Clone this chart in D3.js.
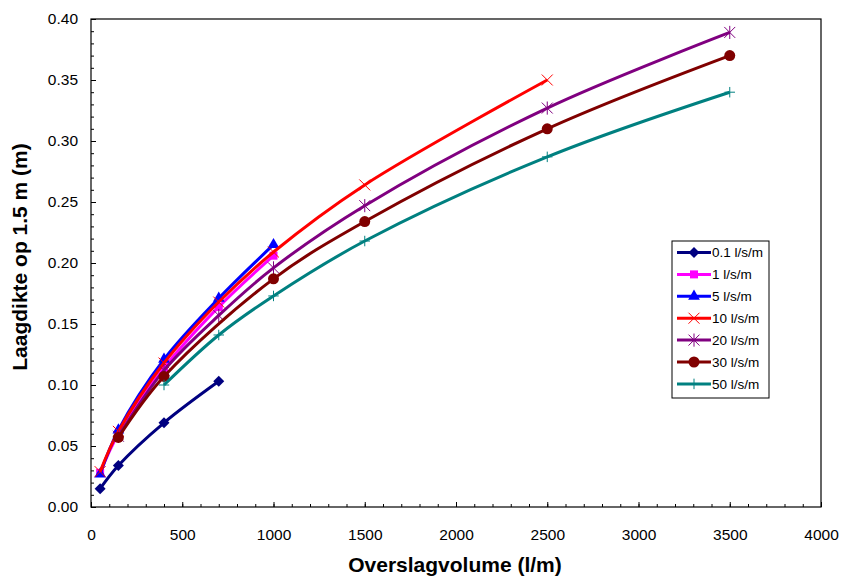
<!DOCTYPE html>
<html>
<head>
<meta charset="utf-8">
<script src="https://cdn.jsdelivr.net/npm/d3@7"></script>
<style>
  body { margin: 0; background: #fff; }
  text { font-family: "Liberation Sans", Arial, sans-serif; }
</style>
</head>
<body>
<div class="canvas"></div>
<script>
// waarden
const seriesNames = ['0.1 l/s/m', '1 l/s/m', '5 l/s/m', '10 l/s/m', '20 l/s/m', '30 l/s/m', '50 l/s/m'];
const colours = ['#000080', '#ff00ff', '#0000ff', '#ff0000', '#800080', '#800000', '#008080'];

const volume01 = [50, 150, 400, 700];
const thick01 = [0.015, 0.034, 0.069, 0.103];
const volume1 = [50, 150, 400, 700, 1000];
const thick1 = [0.028, 0.060, 0.114, 0.164, 0.206];
const volume5 = [50, 150, 400, 700, 1000];
const thick5 = [0.027, 0.063, 0.121, 0.171, 0.215];
const volume10 = [50, 150, 400, 700, 1000, 1500, 2500];
const thick10 = [0.029, 0.062, 0.118, 0.168, 0.209, 0.264, 0.350];
const volume20 = [150, 400, 700, 1000, 1500, 2500, 3500];
const thick20 = [0.058, 0.112, 0.157, 0.196, 0.247, 0.327, 0.389];
const volume30 = [150, 400, 1000, 1500, 2500, 3500];
const thick30 = [0.057, 0.107, 0.187, 0.234, 0.310, 0.370];
const volume50 = [400, 700, 1000, 1500, 2500, 3500];
const thick50 = [0.100, 0.141, 0.173, 0.218, 0.287, 0.340];

const xTicks = [0, 500, 1000, 1500, 2000, 2500, 3000, 3500, 4000];
const yTicks = [0, 0.05, 0.10, 0.15, 0.20, 0.25, 0.30, 0.35, 0.40];

const volumes = [volume01, volume1, volume5, volume10, volume20, volume30, volume50];
const thicks = [thick01, thick1, thick5, thick10, thick20, thick30, thick50];

const width = 842, height = 577;
const margin = { left: 91, right: 21, top: 19, bottom: 70 };

const svg = d3.select('.canvas')
    .append('svg')
    .attr('width', width)
    .attr('height', height);

const x = d3.scaleLinear().domain([0, 4000]).range([margin.left, width - margin.right]);
const y = d3.scaleLinear().domain([0, 0.4]).range([height - margin.bottom, margin.top]);

// kleine streepjes
svg.append('g')
    .attr('transform', `translate(0, ${height - margin.bottom})`)
    .call(d3.axisBottom(x).tickValues(d3.range(0, 4001, 100)).tickSize(-3).tickFormat(''))
    .call(g => g.select('.domain').remove());
svg.append('g')
    .attr('transform', `translate(${margin.left}, 0)`)
    .call(d3.axisLeft(y).tickValues(d3.range(0, 41).map(d => d / 100)).tickSize(-3).tickFormat(''))
    .call(g => g.select('.domain').remove());

const xAxis = svg.append('g')
    .attr('transform', `translate(0, ${height - margin.bottom})`)
    .call(d3.axisBottom(x).tickValues(xTicks).tickSize(-5).tickPadding(22).tickFormat(d3.format('d')));
const yAxis = svg.append('g')
    .attr('transform', `translate(${margin.left}, 0)`)
    .call(d3.axisLeft(y).tickValues(yTicks).tickSize(-5).tickPadding(13).tickFormat(d3.format('.2f')));

[xAxis, yAxis].forEach(a => {
    a.select('.domain').remove();
    a.selectAll('text').attr('font-size', 15.5).attr('fill', '#000')
        .attr('font-family', '"Liberation Sans", Arial, sans-serif');
});

svg.selectAll('.tick line').attr('stroke', '#000');

// plot rand
svg.append('rect')
    .attr('x', margin.left)
    .attr('y', margin.top)
    .attr('width', width - margin.left - margin.right)
    .attr('height', height - margin.top - margin.bottom)
    .attr('fill', 'none')
    .attr('stroke', '#000')
    .attr('stroke-width', 1.2);

// marker vormen
const starType = {
    draw(ctx, size) {
        const r = Math.sqrt(size) / 2;
        ctx.moveTo(-r, -r); ctx.lineTo(r, r);
        ctx.moveTo(-r, r); ctx.lineTo(r, -r);
        ctx.moveTo(0, -r * 1.2); ctx.lineTo(0, r * 1.2);
    }
};
const timesType = {
    draw(ctx, size) {
        const r = Math.sqrt(size) / 2;
        ctx.moveTo(-r, -r); ctx.lineTo(r, r);
        ctx.moveTo(-r, r); ctx.lineTo(r, -r);
    }
};
const plusType = {
    draw(ctx, size) {
        const r = Math.sqrt(size) / 2;
        ctx.moveTo(-r, 0); ctx.lineTo(r, 0);
        ctx.moveTo(0, -r); ctx.lineTo(0, r);
    }
};
const diamondType = {
    draw(ctx, size) {
        const r = Math.sqrt(size) / 2;
        ctx.moveTo(0, -r); ctx.lineTo(r, 0); ctx.lineTo(0, r); ctx.lineTo(-r, 0); ctx.closePath();
    }
};

const markers = [
    { type: diamondType, size: 120, filled: true },
    { type: d3.symbolSquare, size: 64, filled: true },
    { type: d3.symbolTriangle, size: 60, filled: true },
    { type: timesType, size: 120, filled: false },
    { type: starType, size: 120, filled: false },
    { type: d3.symbolCircle, size: 95, filled: true },
    { type: plusType, size: 110, filled: false }
];

const line = d3.line()
    .x(d => x(d[0]))
    .y(d => y(d[1]))
    .curve(d3.curveCatmullRom.alpha(0.5));

function drawMarker(sel, i) {
    const m = markers[i];
    sel.attr('d', d3.symbol().type(m.type).size(m.size)())
        .attr('fill', m.filled ? colours[i] : 'none')
        .attr('stroke', colours[i])
        .attr('stroke-width', m.filled ? 0 : 1);
}

seriesNames.forEach((name, i) => {
    const pts = d3.zip(volumes[i], thicks[i]);
    const g = svg.append('g').attr('class', 'series');
    g.append('path')
        .attr('d', line(pts))
        .attr('fill', 'none')
        .attr('stroke', colours[i])
        .attr('stroke-width', 3);
    g.selectAll('path.marker')
        .data(pts)
        .enter()
        .append('path')
        .attr('class', 'marker')
        .attr('transform', d => `translate(${x(d[0])}, ${y(d[1])})`)
        .call(drawMarker, i);
});

// legenda
const legend = svg.append('g').attr('transform', 'translate(672, 241)');
legend.append('rect')
    .attr('width', 97)
    .attr('height', 157)
    .attr('fill', '#fff')
    .attr('stroke', '#000')
    .attr('stroke-width', 1);

seriesNames.forEach((name, i) => {
    const row = legend.append('g').attr('transform', `translate(0, ${11.5 + i * 21.9})`);
    row.append('line')
        .attr('x1', 5).attr('x2', 39)
        .attr('stroke', colours[i])
        .attr('stroke-width', 3);
    row.append('path')
        .attr('transform', 'translate(22, 0)')
        .call(drawMarker, i);
    row.append('text')
        .attr('x', 40)
        .attr('dy', '0.35em')
        .attr('font-size', 13.5)
        .text(name);
});

// as titels
svg.append('text')
    .attr('x', 455)
    .attr('y', 572)
    .attr('text-anchor', 'middle')
    .attr('font-size', 21)
    .attr('font-weight', 'bold')
    .text('Overslagvolume (l/m)');

svg.append('text')
    .attr('transform', `translate(27, 257) rotate(-90)`)
    .attr('text-anchor', 'middle')
    .attr('font-size', 21)
    .attr('font-weight', 'bold')
    .text('Laagdikte op 1.5 m (m)');
</script>
</body>
</html>
